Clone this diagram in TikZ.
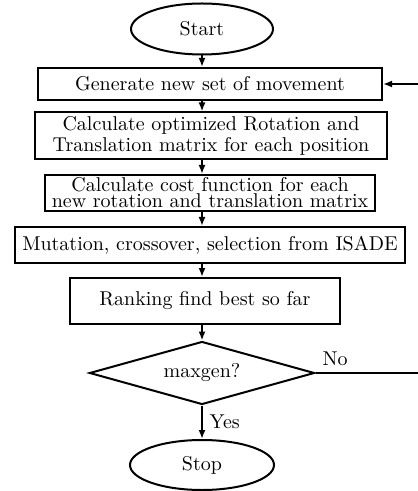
\documentclass[tikz,border=0pt]{standalone}
\usetikzlibrary{shapes.geometric,arrows.meta}
\begin{document}
\begin{tikzpicture}[x=0.5pt,y=0.5pt,
  box/.style={draw,line width=1pt,rectangle,align=center,inner sep=1pt},
  term/.style={draw,line width=1pt,ellipse,inner sep=0pt},
  decide/.style={draw,line width=1pt,diamond,shape aspect=3.6,inner sep=0pt},
  arr/.style={line width=1pt,-{Latex[length=4.5pt,width=3.5pt]}}]
\useasboundingbox (0,0) rectangle (417,-491);
\node[term,minimum width=71pt,minimum height=25.5pt] (start) at (202,-29) {Start};
\node[box,minimum width=172pt,minimum height=16pt] (gen) at (210,-84) {Generate new set of movement};
\node[box,minimum width=176pt,minimum height=23.5pt] (calc) at (211,-136) {Calculate optimized Rotation and\\[-1.5pt]Translation matrix for each position};
\node[box,minimum width=165pt,minimum height=18pt] (cost) at (210,-193) {Calculate cost function for each\\[-4pt]new rotation and translation matrix};
\node[box,minimum width=195pt,minimum height=18pt] (isade) at (210,-245) {Mutation, crossover, selection from ISADE};
\node[box,minimum width=135pt,minimum height=23pt] (rank) at (205,-301) {Ranking find best so far};
\node[decide,minimum width=112.5pt,minimum height=31.5pt] (maxgen) at (202,-373) {maxgen?};
\node[term,minimum width=72pt,minimum height=25pt] (stop) at (202,-465) {Stop};
\coordinate (back) at (430,-373);
% main flow
\draw[arr] (start) -- (start |- gen.north);
\draw[arr] (gen.south -| start) -- (calc.north -| start);
\draw[arr] (calc.south -| start) -- (cost.north -| start);
\draw[arr] (cost.south -| start) -- (isade.north -| start);
\draw[arr] (isade.south -| start) -- (rank.north -| start);
\draw[arr] (rank.south -| start) -- (maxgen.north);
\draw[arr] (maxgen) -- (stop) node[midway,right] {Yes};
% loop back
\draw[arr] (maxgen.east) -- (back) |- (gen.east);
\node[above right] (no) at (maxgen.east) {No};
\end{tikzpicture}
\end{document}
